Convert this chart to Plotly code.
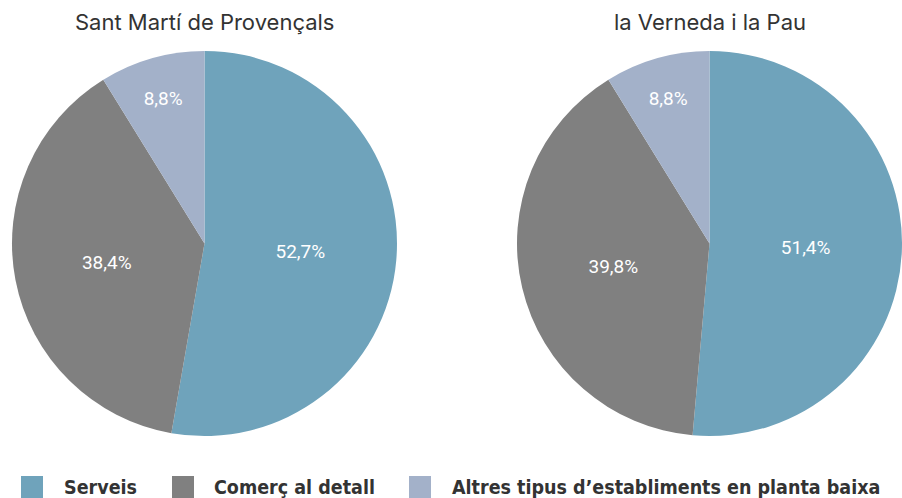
import plotly.graph_objects as go

categories = ["Serveis", "Comerç al detall", "Altres tipus d’establiments en planta baixa"]
colors = ["#6fa3bb", "#808080", "#a3b1c9"]

titles = ["Sant Martí de Provençals", "la Verneda i la Pau"]
values_1 = [52.7, 38.4, 8.8]
values_2 = [51.4, 39.8, 8.8]


def fmt(v):
    return ("%.1f%%" % v).replace(".", ",")


fig = go.Figure()

domains = [[12 / 902, 397 / 902], [517 / 902, 902 / 902]]
for vals, dom in zip([values_1, values_2], domains):
    fig.add_trace(go.Pie(
        labels=categories, values=vals,
        text=[fmt(v) for v in vals], textinfo="text",
        textposition="inside", insidetextorientation="horizontal",
        textfont=dict(family="Roboto", size=19, color="white"),
        marker=dict(colors=colors, line=dict(width=0)),
        sort=False, direction="clockwise", rotation=0,
        domain=dict(x=dom, y=[1 - 437 / 498, 1 - 50 / 498]),
        showlegend=False, hoverinfo="label+percent",
    ))

# titles
for t, cx in zip(titles, [204, 710]):
    fig.add_annotation(text=t, x=cx / 902, y=1 - 22 / 498, xref="paper", yref="paper",
                       showarrow=False, xanchor="center", yanchor="middle",
                       font=dict(family="Inter", size=22, color="#333333"))

# legend drawn by hand
sq_x = [21, 172, 409]
tx_x = [62, 212, 450]
for c, lab, sx, tx in zip(colors, categories, sq_x, tx_x):
    fig.add_shape(type="rect", xref="paper", yref="paper",
                  x0=sx / 902, x1=(sx + 22) / 902, y0=0, y1=22 / 498,
                  fillcolor=c, line=dict(width=0))
    fig.add_annotation(text="<b>" + lab + "</b>", x=tx / 902, y=11 / 498,
                       xref="paper", yref="paper", showarrow=False,
                       xanchor="left", yanchor="middle",
                       font=dict(family="DejaVu Sans Condensed, Roboto", size=19.5, color="#333333"))

fig.update_layout(
    width=902, height=498,
    margin=dict(l=0, r=0, t=0, b=0),
    paper_bgcolor="white", plot_bgcolor="white",
)

fig.write_html("out.html", config={"displayModeBar": False},
               post_script="document.body.style.margin='0';")
